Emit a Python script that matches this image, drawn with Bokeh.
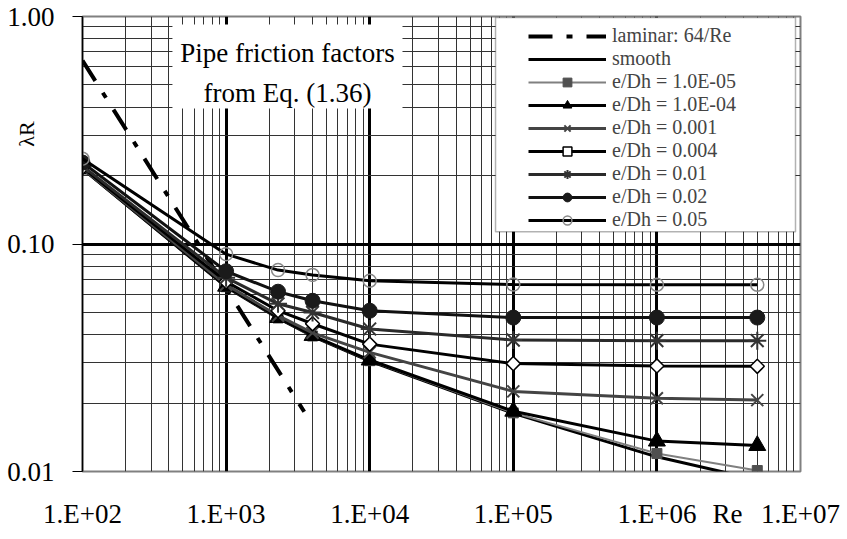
from bokeh.plotting import figure
from bokeh.models import (Range1d, FixedTicker, PrintfTickFormatter, CustomJSTickFormatter,
                          Label, BoxAnnotation, Legend, LegendItem)
from bokeh.embed import file_html
from bokeh.resources import INLINE

# ---------------- data ----------------
re_vals = [100, 1000, 2300, 4000, 1e4, 1e5, 1e6, 5e6]

lam_smooth = [0.214, 0.0648, 0.0472, 0.0393, 0.0306, 0.0180, 0.0116, 0.0092]
lam_1e_5   = [0.214, 0.0649, 0.0473, 0.0394, 0.0307, 0.0181, 0.0120, 0.0101]
lam_1e_4   = [0.214, 0.0652, 0.0475, 0.0396, 0.0309, 0.0184, 0.0136, 0.0130]
lam_0001   = [0.215, 0.0662, 0.0484, 0.0407, 0.0334, 0.0225, 0.0210, 0.0206]
lam_0004   = [0.217, 0.0683, 0.0509, 0.0446, 0.0363, 0.0298, 0.0291, 0.0290]
lam_001    = [0.220, 0.0711, 0.0546, 0.0500, 0.0423, 0.0378, 0.0376, 0.0376]
lam_002    = [0.228, 0.0759, 0.0617, 0.0563, 0.0509, 0.0475, 0.0475, 0.0475]
lam_005    = [0.237, 0.0902, 0.0768, 0.0731, 0.0689, 0.0663, 0.0662, 0.0662]

laminar_re  = [100, 3500]
laminar_lam = [0.64, 0.0183]

x_ticks = [1e2, 1e3, 1e4, 1e5, 1e6, 1e7]
y_ticks = [0.01, 0.1, 1.0]
re_title_pos = 3.1e6          # where the "Re" axis title sits along the x axis

series_labels = ["laminar: 64/Re", "smooth", "e/Dh = 1.0E-05", "e/Dh = 1.0E-04",
                 "e/Dh = 0.001", "e/Dh = 0.004", "e/Dh = 0.01", "e/Dh = 0.02", "e/Dh = 0.05"]

FONT = "Liberation Serif"

# ---------------- figure ----------------
p = figure(width=845, height=537, x_axis_type="log", y_axis_type="log",
           x_range=Range1d(100, 1e7), y_range=Range1d(0.01, 1.0),
           output_backend="svg", toolbar_location=None, title=None,
           min_border_left=82, min_border_right=45, min_border_top=16, min_border_bottom=66)
p.background_fill_color = "white"
p.border_fill_color = "white"
p.outline_line_color = "#808080"
p.outline_line_width = 2

x_minor = [m * d for d in x_ticks[:-1] for m in range(2, 10)]
y_minor = [m * d for d in y_ticks[:-1] for m in range(2, 10)]
x_grid_ticker = FixedTicker(ticks=x_ticks, minor_ticks=x_minor)
x_axis_ticker = FixedTicker(ticks=x_ticks + [re_title_pos])
yt = FixedTicker(ticks=y_ticks, minor_ticks=y_minor)
p.xaxis.ticker = x_axis_ticker
p.yaxis.ticker = yt
p.xgrid.ticker = x_grid_ticker
p.ygrid.ticker = yt

for g in (p.xgrid, p.ygrid):
    g.grid_line_color = "black"
    g.grid_line_width = 3
    g.minor_grid_line_color = "#333333"
    g.minor_grid_line_width = 1

p.xaxis.formatter = CustomJSTickFormatter(code="""
const e = Math.log10(tick);
if (Math.abs(e - Math.round(e)) > 1e-6) { return "Re"; }
const n = Math.round(e);
return "1.E+" + (n < 10 ? "0" + n : String(n));
""")
p.yaxis.formatter = PrintfTickFormatter(format="%.2f")

for ax in (p.xaxis, p.yaxis):
    ax.major_label_text_font = FONT
    ax.major_label_text_font_size = "27px"
    ax.major_label_text_color = "black"
    ax.minor_tick_line_color = None

p.xaxis.axis_line_color = None
p.xaxis.major_tick_line_color = None
p.xaxis.major_label_standoff = 21

p.yaxis.axis_line_color = "black"
p.yaxis.axis_line_width = 1.5
p.yaxis.major_tick_line_color = "black"
p.yaxis.major_tick_out = 10
p.yaxis.major_tick_in = 0
p.yaxis.major_label_standoff = 18

# y axis title: padded with no-break spaces so that it sits in the upper part of the axis
p.yaxis.axis_label = "\u00a0" * 40 + "λR"
p.yaxis.axis_label_text_font = FONT
p.yaxis.axis_label_text_font_size = "22px"
p.yaxis.axis_label_text_font_style = "normal"
p.yaxis.axis_label_text_color = "black"
p.yaxis.axis_label_standoff = -35

# ---------------- series ----------------
items = []

r = p.line(laminar_re, laminar_lam, line_color="black", line_width=4, line_dash="24 14 6 14")
items.append(LegendItem(label=series_labels[0], renderers=[r]))

r = p.line(re_vals, lam_smooth, line_color="black", line_width=3)
items.append(LegendItem(label=series_labels[1], renderers=[r]))

styles = [
    (lam_1e_5, "#808080", 2, dict(marker="square", size=10, fill_color="#505050", line_color="#505050")),
    (lam_1e_4, "black", 3, dict(marker="triangle", size=17, fill_color="black", line_color="black")),
    (lam_0001, "#444444", 3, dict(marker="x", size=17, fill_color=None, line_color="#444444", line_width=2)),
    (lam_0004, "black", 3, dict(marker="square", angle=0.785398, size=10, fill_color="white",
                                line_color="black", line_width=1.5)),
    (lam_001, "#2a2a2a", 3, dict(marker="asterisk", size=18, fill_color=None, line_color="#333333", line_width=2)),
    (lam_002, "#111111", 3, dict(marker="circle", size=15, fill_color="#1a1a1a", line_color="#1a1a1a")),
    (lam_005, "black", 3, dict(marker="circle", size=13, fill_color=None, line_color="#888888", line_width=1.5)),
]
for i, (ys, lc, lw, mk) in enumerate(styles):
    rl = p.line(re_vals, ys, line_color=lc, line_width=lw)
    rs = p.scatter(re_vals, ys, **mk)
    items.append(LegendItem(label=series_labels[i + 2], renderers=[rl, rs]))

# ---------------- text box ----------------
p.add_layout(BoxAnnotation(left=423, right=16920, bottom=0.394, top=0.922,
                           fill_color="white", fill_alpha=1.0, line_color=None))
p.add_layout(Label(x=2677, y=0.694, text="Pipe friction factors", text_align="center",
                   text_baseline="middle", text_font=FONT, text_font_size="27px", text_color="black"))
p.add_layout(Label(x=2677, y=0.463, text="from Eq. (1.36)", text_align="center",
                   text_baseline="middle", text_font=FONT, text_font_size="27px", text_color="black"))

# ---------------- legend ----------------
p.add_layout(BoxAnnotation(left=75200, right=9.23e6, bottom=0.1133, top=0.99,
                           fill_color="white", fill_alpha=1.0, line_color="black", line_width=1.5))
legend = Legend(items=items, location=(446, 240), padding=0, margin=0, spacing=0,
                border_line_color=None, background_fill_alpha=0,
                label_text_font=FONT, label_text_font_size="20px",
                glyph_width=78, glyph_height=22, label_height=22, label_standoff=6)
p.add_layout(legend)

open("out.html", "w").write(file_html(p, INLINE))
